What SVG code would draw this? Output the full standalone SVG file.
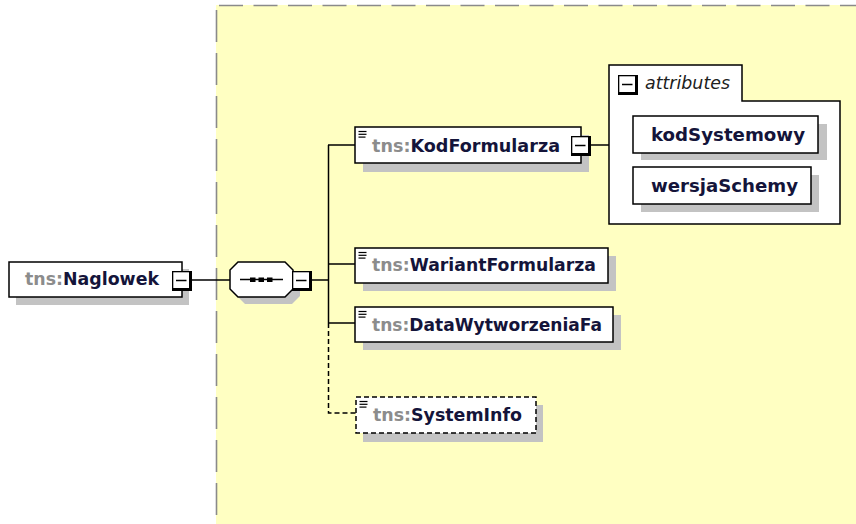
<svg xmlns="http://www.w3.org/2000/svg" width="856" height="524" viewBox="0 0 856 524">
<defs>
<style>
.shadow{fill:#c3c3c3;stroke:none}
.box{fill:#ffffff;stroke:#000000;stroke-width:1.5}
.dbox{fill:#ffffff;stroke:#000000;stroke-width:1.5;stroke-dasharray:5 3}
.lbl{font-family:"DejaVu Sans",Verdana,sans-serif;font-size:17.5px;font-weight:bold;fill:#14143a}
.ns{fill:#8c8c8c}
.conn{fill:none;stroke:#000000;stroke-width:1.5}
.dconn{fill:none;stroke:#000000;stroke-width:1.5;stroke-dasharray:5 3}
.ital{font-family:"DejaVu Sans",Verdana,sans-serif;font-size:17.3px;font-style:italic;fill:#202020}
</style>
<g id="minus">
<rect x="0" y="0" width="20" height="20" fill="#000000"/>
<rect x="1.3" y="1.3" width="15.7" height="15.7" fill="#ffffff"/>
<line x1="4" y1="9.5" x2="14.5" y2="9.5" stroke="#000000" stroke-width="1.5"/>
</g>
<g id="elicon" fill="none" stroke="#000000" stroke-width="1.2">
<line x1="0" y1="0.5" x2="8" y2="0.5"/>
<line x1="0" y1="3.3" x2="8" y2="3.3"/>
<line x1="0" y1="6.1" x2="7" y2="6.1"/>
</g>
</defs>

<g id="panel">
<rect x="216" y="5" width="650" height="530" fill="#ffffc2"/>
<line x1="219" y1="5.5" x2="856" y2="5.5" stroke="#8a8a8a" stroke-width="1.6" stroke-dasharray="24 10.5"/>
<line x1="216.5" y1="10" x2="216.5" y2="524" stroke="#8a8a8a" stroke-width="1.6" stroke-dasharray="32 11"/>
</g>

<g id="connectors">
<line class="conn" x1="192" y1="280" x2="230" y2="280"/>
<line class="conn" x1="312" y1="280" x2="328.5" y2="280"/>
<line class="conn" x1="328.5" y1="145" x2="328.5" y2="323"/>
<line class="conn" x1="328" y1="145" x2="355" y2="145"/>
<line class="conn" x1="328" y1="264" x2="355" y2="264"/>
<line class="conn" x1="328" y1="323" x2="355" y2="323"/>
<polyline class="dconn" points="328.5,323 328.5,413 356,413"/>
<line class="conn" x1="591" y1="145" x2="609" y2="145"/>
</g>

<g id="node-naglowek">
<rect class="shadow" x="16" y="269" width="173" height="36"/>
<rect class="box" x="9" y="262" width="173" height="35"/>
<text class="lbl" x="25" y="285" textLength="134" lengthAdjust="spacingAndGlyphs"><tspan class="ns">tns:</tspan>Naglowek</text>
<use href="#minus" x="172" y="271"/>
</g>

<g id="node-sequence">
<polygon class="shadow" points="245,269 292,269 300,277 300,296 292,304 245,304 237,296 237,277"/>
<polygon class="box" points="238,262 285,262 293,270 293,289 285,297 238,297 230,289 230,270"/>
<line x1="240" y1="279.5" x2="283" y2="279.5" stroke="#000000" stroke-width="1.5"/>
<rect x="250" y="277.5" width="5.5" height="4.5" fill="#000000"/>
<rect x="258.5" y="277.5" width="5.5" height="4.5" fill="#000000"/>
<rect x="267" y="277.5" width="5.5" height="4.5" fill="#000000"/>
<use href="#minus" x="292" y="271"/>
</g>

<g id="node-kodformularza">
<rect class="shadow" x="363" y="135" width="226" height="37"/>
<rect class="box" x="355" y="127" width="226" height="36"/>
<use href="#elicon" x="358.5" y="131"/>
<text class="lbl" x="372" y="152" textLength="188" lengthAdjust="spacingAndGlyphs"><tspan class="ns">tns:</tspan>KodFormularza</text>
<use href="#minus" x="571" y="136"/>
</g>

<g id="node-attributes">
<path class="box" d="M609,65 H742 V101 H840 V224 H609 Z"/>
<use href="#minus" x="618" y="75"/>
<text class="ital" x="645" y="89" textLength="85" lengthAdjust="spacingAndGlyphs">attributes</text>
</g>

<g id="node-kodsystemowy">
<rect class="shadow" x="641" y="124" width="186" height="36"/>
<rect class="box" x="633" y="116" width="185" height="37"/>
<text class="lbl" x="651" y="141" textLength="154" lengthAdjust="spacingAndGlyphs" fill="#14143a">kodSystemowy</text>
</g>

<g id="node-wersjaschemy">
<rect class="shadow" x="641" y="175" width="178" height="37"/>
<rect class="box" x="633" y="167" width="178" height="37"/>
<text class="lbl" x="651" y="192" textLength="147" lengthAdjust="spacingAndGlyphs">wersjaSchemy</text>
</g>

<g id="node-wariantformularza">
<rect class="shadow" x="363" y="256" width="253" height="35"/>
<rect class="box" x="355" y="248" width="253" height="35"/>
<use href="#elicon" x="358.5" y="252"/>
<text class="lbl" x="372" y="271" textLength="224" lengthAdjust="spacingAndGlyphs"><tspan class="ns">tns:</tspan>WariantFormularza</text>
</g>

<g id="node-datawytworzeniafa">
<rect class="shadow" x="363" y="315" width="258" height="35"/>
<rect class="box" x="355" y="307" width="258" height="35"/>
<use href="#elicon" x="358.5" y="311"/>
<text class="lbl" x="372" y="331" textLength="230" lengthAdjust="spacingAndGlyphs"><tspan class="ns">tns:</tspan>DataWytworzeniaFa</text>
</g>

<g id="node-systeminfo">
<rect class="shadow" x="363" y="405" width="180" height="37"/>
<rect class="dbox" x="356" y="397" width="180" height="36"/>
<use href="#elicon" x="359.5" y="401"/>
<text class="lbl" x="373" y="421" textLength="149" lengthAdjust="spacingAndGlyphs"><tspan class="ns">tns:</tspan>SystemInfo</text>
</g>
</svg>
